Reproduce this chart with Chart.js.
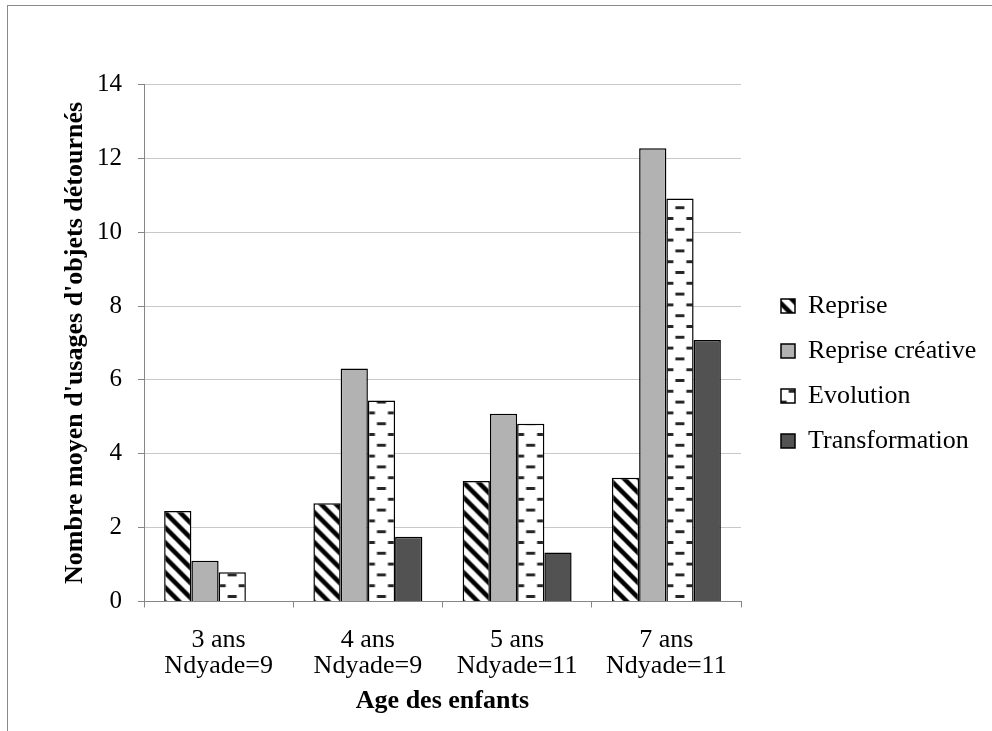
<!DOCTYPE html>
<html>
<head>
<meta charset="utf-8">
<script src="https://cdn.jsdelivr.net/npm/chart.js@4.4.1/dist/chart.umd.min.js"></script>
<style>
  html, body { margin: 0; padding: 0; background: #fff; }
  #wrap { position: relative; width: 992px; height: 731px; overflow: hidden; }
  #frame { position: absolute; left: 7px; top: 4.5px; width: 1000px; height: 740px;
           border-top: 1.5px solid #8a8a8a; border-left: 1.5px solid #8a8a8a; pointer-events: none; }
  canvas { position: absolute; left: 0; top: 0; }
</style>
</head>
<body>
<div id="wrap">
  <canvas id="chart" width="992" height="731"></canvas>
  <div id="frame"></div>
</div>
<script>
// --- données ---
const ages = ['3 ans', '4 ans', '5 ans', '7 ans'];
const dyades = ['Ndyade=9', 'Ndyade=9', 'Ndyade=11', 'Ndyade=11'];
const seriesNames = ['Reprise', 'Reprise créative', 'Evolution', 'Transformation'];
const reprise = [2.45, 2.66, 3.26, 3.35];
const repriseCreative = [1.10, 6.31, 5.08, 12.27];
const evolution = [0.79, 5.44, 4.81, 10.91];
const transformation = [0, 1.75, 1.33, 7.08];
const yMin = 0, yMax = 14, yStep = 2;

const CAT_PCT = 0.73;
const FONT = "'Liberation Serif', 'Times New Roman', serif";

// --- motifs de remplissage ---
function stripeTile() {
    const c = document.createElement('canvas');
    c.width = 15; c.height = 15;
    const g = c.getContext('2d');
    g.fillStyle = '#fff';
    g.fillRect(0, 0, 15, 15);
    g.strokeStyle = '#000';
    g.lineWidth = 4.5;
    for (let k = -1; k <= 1; k++) {
        g.beginPath();
        g.moveTo(k * 15 - 2, -2);
        g.lineTo(k * 15 + 17, 17);
        g.stroke();
    }
    return c;
}

function dashTile() {
    const c = document.createElement('canvas');
    c.width = 22; c.height = 22;
    const g = c.getContext('2d');
    g.fillStyle = '#fff';
    g.fillRect(0, 0, 22, 22);
    g.fillStyle = '#262626';
    g.fillRect(6.5, 0, 9, 3);
    g.fillRect(0, 11, 4.5, 3);
    g.fillRect(17.5, 11, 4.5, 3);
    return c;
}

const tiles = { stripes: stripeTile(), dashes: dashTile() };

// position gauche de la barre, pour caler le motif sur la barre
function barLeft(chart, dataIndex, datasetIndex) {
    const xs = chart.scales.x;
    const catW = xs.width / ages.length;
    const groupW = catW * CAT_PCT;
    return xs.getPixelForValue(dataIndex) - groupW / 2 + datasetIndex * groupW / seriesNames.length;
}

function patternFill(tile, offX, offY, scaleY) {
    return (ctx) => {
        const chart = ctx.chart;
        const pat = chart.ctx.createPattern(tile, 'repeat');
        if (ctx.type !== 'data' || !chart.scales.x || !chart.scales.y) return pat;
        const x = barLeft(chart, ctx.dataIndex, ctx.datasetIndex) + offX;
        const y = chart.scales.y.getPixelForValue(0) + offY;
        pat.setTransform(new DOMMatrix().translate(x, y).scale(1, scaleY));
        return pat;
    };
}

// légende placée à la main, à droite
const LEGEND_W = 251;
const layoutFix = {
    id: 'layoutFix',
    beforeLayout(chart) {
        const lg = chart.legend;
        if (lg && !lg._fixed) {
            const fit = lg.fit;
            lg.fit = function () { fit.call(this); this.width = LEGEND_W; };
            lg._fixed = true;
        }
    },
    afterLayout(chart) {
        const lg = chart.legend;
        if (!lg) return;
        lg.left = 762; lg.right = 992;
        lg.top = 274; lg.bottom = 731;
    }
};

Chart.defaults.font.family = FONT;
Chart.defaults.color = '#000';

const labels = ages.map((a, i) => [a, dyades[i]]);

new Chart(document.getElementById('chart'), {
    type: 'bar',
    data: {
        labels: labels,
        datasets: [
            {
                label: seriesNames[0],
                data: reprise,
                backgroundColor: patternFill(tiles.stripes, 0, 0, 1),
                borderColor: '#000', borderWidth: 1.5
            },
            {
                label: seriesNames[1],
                data: repriseCreative,
                backgroundColor: '#b2b2b2',
                borderColor: '#000', borderWidth: 1.5
            },
            {
                label: seriesNames[2],
                data: evolution,
                backgroundColor: patternFill(tiles.dashes, 2.5, -6.5, 21.6 / 22),
                borderColor: '#000', borderWidth: 1.5
            },
            {
                label: seriesNames[3],
                data: transformation,
                backgroundColor: '#525252',
                borderColor: '#000', borderWidth: 1.5
            }
        ]
    },
    options: {
        responsive: false,
        animation: false,
        layout: { padding: { top: 84.4, left: 0, right: 0, bottom: 0 } },
        datasets: { bar: { categoryPercentage: CAT_PCT, barPercentage: 1.0 } },
        plugins: {
            legend: {
                position: 'right',
                align: 'start',
                labels: {
                    boxWidth: 14, boxHeight: 14, padding: 19,
                    font: { size: 26, family: FONT }, color: '#000'
                }
            },
            tooltip: { enabled: false }
        },
        scales: {
            x: {
                afterFit: (s) => { s.height = 129.5; },
                grid: { drawOnChartArea: false, drawTicks: true, tickLength: 6, tickColor: '#868686', offset: true },
                border: { color: '#868686', width: 1 },
                ticks: { font: { size: 26, family: FONT, lineHeight: 1.0 }, padding: 20, color: '#000', maxRotation: 0 },
                title: {
                    display: true, text: 'Age des enfants',
                    font: { size: 26, weight: 'bold', family: FONT },
                    padding: { top: 0, bottom: 14.4 }, color: '#000'
                }
            },
            y: {
                min: yMin, max: yMax,
                afterFit: (s) => { s.width = 144; },
                grid: { color: '#c8c8c8', lineWidth: 1, tickLength: 6, tickColor: '#868686' },
                border: { color: '#868686', width: 1 },
                ticks: { stepSize: yStep, font: { size: 25, family: FONT }, padding: 16, color: '#000' },
                title: {
                    display: true, text: "Nombre moyen d'usages d'objets détournés",
                    font: { size: 26, weight: 'bold', family: FONT },
                    padding: { top: 60, bottom: 0 }, color: '#000'
                }
            }
        }
    },
    plugins: [layoutFix]
});
</script>
</body>
</html>
